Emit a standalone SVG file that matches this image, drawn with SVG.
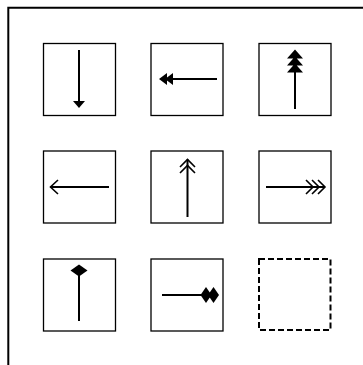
<svg xmlns="http://www.w3.org/2000/svg" width="363" height="365" viewBox="0 0 363 365">
<style>
.frame{fill:none;stroke:#000;stroke-width:2}
.box{fill:#fff;stroke:#000;stroke-width:1.3}
.dash{fill:none;stroke:#000;stroke-width:2;stroke-dasharray:6 3}
.ln{fill:none;stroke:#000;stroke-width:2}
.fh{fill:#000;stroke:none}
.oh{fill:none;stroke:#000;stroke-width:1.6}
</style>
<rect width="363" height="365" fill="#fff"/>
<g id="frame"><path class="frame" d="M8.3,365 V7.7 H363"/></g>
<g id="n1"><rect class="box" x="43.5" y="43.5" width="72" height="72"/></g>
<g id="n2"><rect class="box" x="151" y="43.5" width="72" height="72"/></g>
<g id="n3"><rect class="box" x="259" y="43.5" width="72" height="72"/></g>
<g id="n4"><rect class="box" x="43.5" y="151" width="72" height="72"/></g>
<g id="n5"><rect class="box" x="151" y="151" width="72" height="72"/></g>
<g id="n6"><rect class="box" x="259" y="151" width="72" height="72"/></g>
<g id="n7"><rect class="box" x="43.5" y="259" width="72" height="72"/></g>
<g id="n8"><rect class="box" x="151" y="259" width="72" height="72"/></g>
<g id="n9"><rect class="dash" x="259" y="259" width="71.5" height="71"/></g>
<g id="connectors">
<path class="ln" d="M79,50 V102"/>
<path class="fh" d="M73,101 H85 L79,108 Z"/>
<path class="ln" d="M217,79 H170"/>
<path class="fh" d="M159,79 L167,73 V85 Z M165,79 L173,73 V85 Z"/>
<path class="ln" d="M295,109 V68"/>
<path class="fh" d="M295,49.5 L303,58.5 H287 Z M295,56.5 L303,65.5 H287 Z M295,63.5 L303,72.5 H287 Z"/>
<path class="ln" d="M50.5,187 H109"/>
<path class="oh" d="M58,180 L50.5,187 L58,194"/>
<path class="ln" d="M187.5,159.5 V217"/>
<path class="oh" d="M180,167 L187.5,159.5 L195,167 M180,173 L187.5,165.5 L195,173"/>
<path class="ln" d="M266,187 H324"/>
<path class="oh" d="M318,180 L325,187 L318,194 M312,180 L319,187 L312,194 M306,180 L313,187 L306,194"/>
<path class="ln" d="M79,275 V321"/>
<path class="fh" d="M79,264.5 L87.5,270.5 L79,276.5 L70.5,270.5 Z"/>
<path class="ln" d="M162,295 H203"/>
<path class="fh" d="M200.5,295 L206,287 L211.5,295 L206,303 Z M208,295 L213.5,287 L219,295 L213.5,303 Z"/>
</g>
</svg>
